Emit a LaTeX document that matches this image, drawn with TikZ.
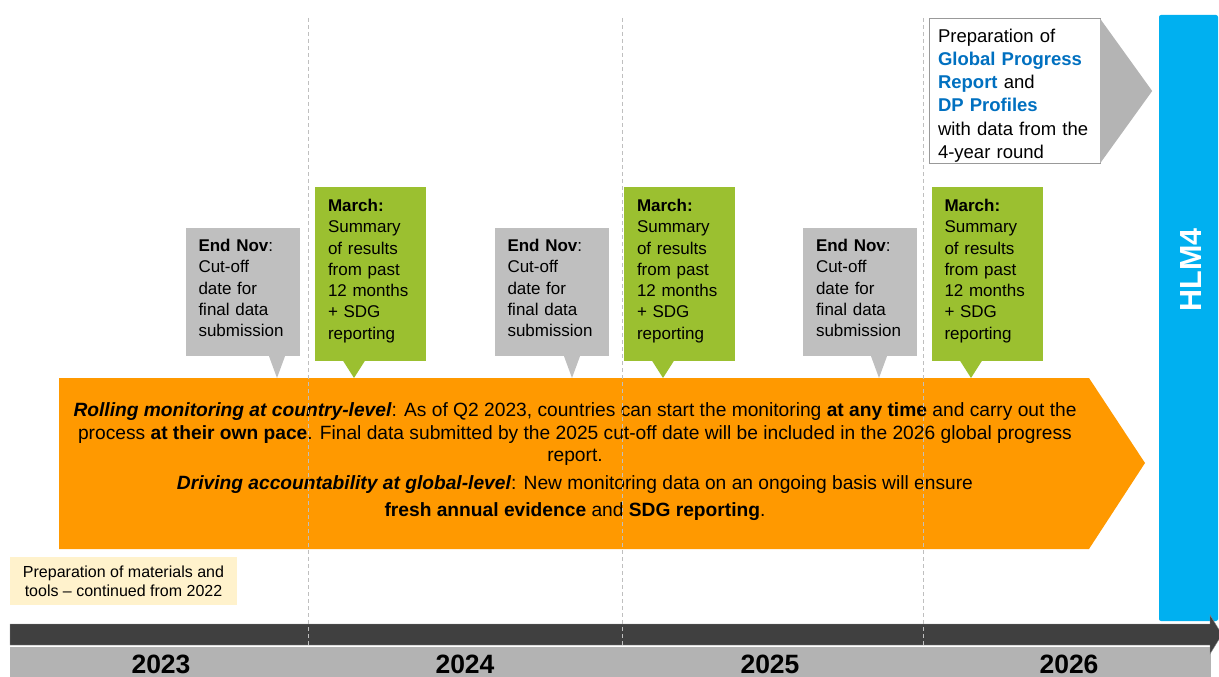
\documentclass[tikz,border=0pt]{standalone}
\usepackage{fontspec}
\setmainfont{Liberation Sans}
\usepackage{xcolor}
\usepackage{tikz}
\usetikzlibrary{positioning, calc}
\definecolor{rollorange}{RGB}{255,153,0}
\definecolor{cutgray}{RGB}{191,191,191}
\definecolor{chevgray}{RGB}{180,180,180}
\definecolor{marchgreen}{RGB}{155,192,48}
\definecolor{hlmblue}{RGB}{0,176,240}
\definecolor{reportblue}{RGB}{0,112,192}
\definecolor{prepyellow}{RGB}{255,242,204}
\definecolor{yeargray}{RGB}{179,179,179}
\definecolor{bardark}{RGB}{64,64,64}
\tikzset{
  cutoffbox/.style={fill=cutgray, minimum width=114pt, minimum height=128pt, inner sep=0pt},
  marchbox/.style={fill=marchgreen, minimum width=111pt, minimum height=174pt, inner sep=0pt},
  callouttext/.style={align=left, inner sep=0pt, font=\fontsize{17}{21.3}\selectfont},
  yearlabel/.style={anchor=base, font=\fontsize{26.5}{26.5}\selectfont\bfseries},
  yeardash/.style={draw=black!25, line width=1pt, dash pattern=on 4pt off 3pt}
}

\begin{document}
\begin{tikzpicture}[x=1pt, y=-1pt]
    \useasboundingbox (0,0) rectangle (1219,677);
    % rolling monitoring arrow
    \fill[rollorange] (59,378) -- (1089,378) -- (1145,463) -- (1089,549) -- (59,549) -- cycle;
    \node[align=center, font=\fontsize{19.2}{22.5}\selectfont] (rolling) at (575,462) {%
      \textbf{\textit{Rolling monitoring at country-level}}: As of Q2 2023, countries can start the monitoring \textbf{at any time} and carry out the\\
      process \textbf{at their own pace}. Final data submitted by the 2025 cut-off date will be included in the 2026 global progress\\
      report.\\[5.5pt]
      \textbf{\textit{Driving accountability at global-level}}: New monitoring data on an ongoing basis will ensure\\[4.5pt]
      \textbf{fresh annual evidence} and \textbf{SDG reporting}.};
    % cut-off callouts
    \foreach \yr/\bx/\tx in {23/242.5/277, 24/551.5/572, 25/860/879} {
      \node[cutoffbox] (nov\yr) at (\bx,292) {};
      \node[callouttext, text width=88pt] (nov\yr text) at ($(nov\yr.center)+(0,-4)$) {\textbf{End Nov}:\\ Cut-off\\ date for\\ final data\\ submission};
      \coordinate (nov\yr tip) at (\tx,378);
      \fill[cutgray] ($(nov\yr tip |- nov\yr.south)+(-8,0)$) -- (nov\yr tip) -- ($(nov\yr tip |- nov\yr.south)+(8,0)$) -- cycle;
    }
    % march callouts
    \foreach \yr/\bx/\tx in {24/370.5/354, 25/679.5/663, 26/987/971} {
      \node[marchbox] (mar\yr) at (\bx,273.5) {};
      \node[callouttext, text width=85pt] (mar\yr text) at ($(mar\yr.center)+(0,-2.5)$) {\textbf{March:}\\ Summary\\ of results\\ from past\\ 12 months\\ + SDG\\ reporting};
      \coordinate (mar\yr tip) at (\tx,378);
      \fill[marchgreen] ($(mar\yr tip |- mar\yr.south)+(-11,0)$) -- (mar\yr tip) -- ($(mar\yr tip |- mar\yr.south)+(11,0)$) -- cycle;
    }
    % global progress report
    \node[draw=black!40, fill=white, minimum width=171pt, minimum height=145pt, inner sep=0pt] (gpr) at (1014.5,91) {};
    \coordinate (gprtip) at ($(gpr.east)+(52,0)$);
    \fill[chevgray] ([yshift=-0.5pt]gpr.north east) -- (gprtip) -- ([yshift=0.5pt]gpr.south east) -- cycle;
    \node[text width=153pt, inner sep=0pt, align=left, font=\fontsize{18.5}{23.3}\selectfont] (gprtext) at ($(gpr.center)+(0,4.5)$) {%
      Preparation of\\
      \textcolor{reportblue}{\textbf{Global Progress}}\\
      \textcolor{reportblue}{\textbf{Report}} and\\
      \textcolor{reportblue}{\textbf{DP Profiles}}\\
      with data from the\\
      4-year round};
    % HLM4
    \node[fill=hlmblue, rounded corners=2pt, minimum width=59pt, minimum height=606pt, inner sep=0pt] (hlm) at (1188.5,318) {};
    \node[rotate=90, text=white, font=\fontsize{30.5}{30.5}\selectfont\bfseries] (hlmtext) at (1191,270) {HLM4};
    % preparation of materials
    \node[fill=prepyellow, minimum width=227pt, minimum height=48pt, inner sep=0pt, align=center,
          font=\fontsize{16}{19}\selectfont] (prep) at (123.5,581) {Preparation of materials and\\ tools – continued from 2022};
    % timeline
    \fill[yeargray] (10,647) rectangle (1211,677);
    \fill[bardark, draw=black!45] (10,624) -- (1210,624) -- (1210,615) -- (1222,634.5) -- (1210,654) -- (1210,645) -- (10,645) -- cycle;
    \node[yearlabel] (y23) at (161,673.5) {2023};
    \node[yearlabel] (y24) at (465,673.5) {2024};
    \node[yearlabel] (y25) at (770,673.5) {2025};
    \node[yearlabel] (y26) at (1069,673.5) {2026};
    % year dividers
    \foreach \x in {308,622,923} { \draw[yeardash] (\x,18) -- (\x,647); }
\end{tikzpicture}
\end{document}
